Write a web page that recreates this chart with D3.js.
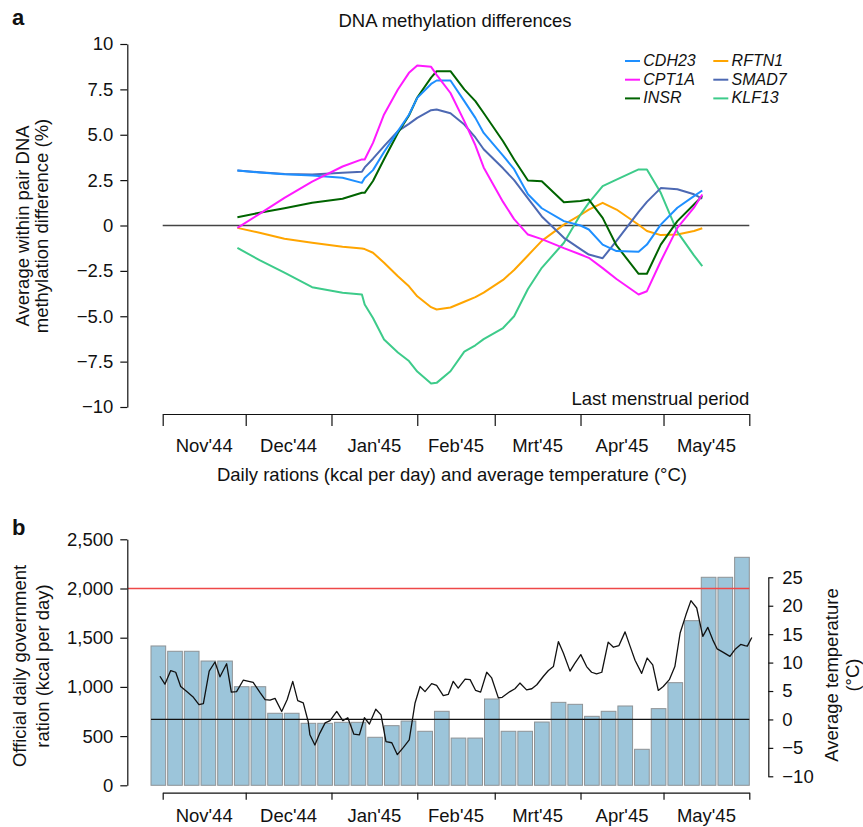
<!DOCTYPE html>
<html>
<head>
<meta charset="utf-8">
<script src="https://cdn.jsdelivr.net/npm/d3@7"></script>
<style>
  body { margin: 0; background: #fff; }
  text { font-family: "Liberation Sans", Arial, sans-serif; fill: #111; }
</style>
</head>
<body>
<div id="chart"></div>
<script>
// --- data -----------------------------------------------------------------
// panel a: within-pair DNA methylation difference (%) by date of last menstrual period
let dnaDates = ['1944-11-28','1944-12-06','1944-12-15','1944-12-25','1945-01-05','1945-01-12',
    '1945-01-13','1945-01-16','1945-01-20','1945-01-25','1945-01-29','1945-02-01','1945-02-06',
    '1945-02-08','1945-02-13','1945-02-18','1945-02-22','1945-02-25','1945-03-04','1945-03-08',
    '1945-03-13','1945-03-18','1945-03-26','1945-04-01','1945-04-04','1945-04-09','1945-04-14',
    '1945-04-22','1945-04-25','1945-04-30','1945-05-06','1945-05-12','1945-05-15'];

let cdh23 = [3.03,2.92,2.82,2.76,2.63,2.35,2.62,3.05,4.05,5.2,6.1,7.03,7.8,7.99,7.99,6.85,5.93,
    5.1,3.85,3.1,1.72,0.95,0.24,0.0,-0.22,-1.05,-1.41,-1.45,-1.05,0.05,0.98,1.62,1.93];
let cpt1a = [-0.13,0.64,1.52,2.42,3.25,3.64,3.64,4.55,6.12,7.49,8.41,8.82,8.74,8.3,7.3,5.75,4.42,
    3.2,1.3,0.35,-0.5,-0.75,-1.25,-1.6,-1.78,-2.35,-2.95,-3.8,-3.62,-1.97,-0.13,0.98,1.71];
let insr = [0.46,0.7,0.95,1.25,1.47,1.8,1.8,2.45,3.65,5.1,6.06,7.05,8.15,8.5,8.5,7.5,6.85,6.2,
    4.64,3.64,2.48,2.44,1.28,1.35,1.43,0.42,-1.1,-2.66,-2.66,-1.05,0.24,1.16,1.62];
let rftn1 = [-0.13,-0.4,-0.73,-0.95,-1.17,-1.27,-1.3,-1.5,-2.05,-2.8,-3.35,-3.9,-4.5,-4.63,-4.52,
    -4.2,-3.95,-3.7,-3.0,-2.45,-1.65,-0.85,0.05,0.58,0.87,1.25,0.88,0.04,-0.3,-0.53,-0.5,-0.3,-0.15];
let smad7 = [3.03,2.93,2.84,2.81,2.9,2.96,3.2,3.68,4.37,5.2,5.6,5.93,6.35,6.39,6.18,5.56,4.85,4.2,
    3.15,2.5,1.5,0.5,-0.68,-1.3,-1.6,-1.8,-0.85,0.75,1.3,2.06,2.0,1.72,1.48];
let klf13 = [-1.23,-1.91,-2.6,-3.4,-3.71,-3.8,-4.35,-5.1,-6.28,-7.0,-7.47,-8.05,-8.71,-8.67,-8.03,
    -6.95,-6.6,-6.26,-5.65,-5.0,-3.5,-2.33,-0.95,0.6,1.25,2.17,2.53,3.09,3.09,1.8,-0.35,-1.65,-2.24];

let geneNames = ['CDH23', 'CPT1A', 'INSR', 'RFTN1', 'SMAD7', 'KLF13'];
let geneColors = ['#1e8fff', '#ff1aff', '#006400', '#ffa500', '#4d69b3', '#3dcb8a'];
let geneValues = [cdh23, cpt1a, insr, rftn1, smad7, klf13];

// month boundaries and labels (shared by both panels)
let monthStarts = ['1944-11-01','1944-12-01','1945-01-01','1945-02-01','1945-03-01',
    '1945-04-01','1945-05-01','1945-06-01'];
let monthLabels = ["Nov'44", "Dec'44", "Jan'45", "Feb'45", "Mrt'45", "Apr'45", "May'45"];

// panel b: official daily ration per week (kcal)
let rations = [1416,1362,1362,1263,1263,1002,1002,732,732,630,630,640,640,488,606,653,549,752,
    480,480,877,549,549,643,843,823,701,752,806,366,779,1043,1673,2114,2114,2317];

// panel b: average temperature (°C), days counted from 1 Nov 1944
let tempDay = [-1.0,0.8,2.9,4.7,6.5,8.7,11.1,13.1,14.7,16.8,18.9,20.7,23.1,24.8,26.7,29.1,32.7,
    35.2,37.0,38.8,40.6,43.0,45.0,47.0,48.8,50.8,52.6,53.2,55.0,56.8,58.7,60.5,62.9,65.1,66.9,
    69.1,71.1,72.9,74.7,77.0,78.9,80.7,82.8,84.8,87.0,89.1,91.2,93.0,94.8,97.2,99.0,101.4,103.2,
    105.0,106.8,109.3,111.1,113.1,114.9,117.1,118.9,121.3,122.7,125.5,127.3,129.1,131.5,133.4,
    135.2,137.6,139.4,141.2,143.0,144.8,147.2,149.0,151.1,153.2,155.0,156.8,158.7,161.0,162.9,
    164.9,167.1,168.9,170.7,173.1,175.1,177.1,179.1,180.9,183.1,185.1,187.0,189.1,190.9,193.0,
    195.2,197.0,198.8,200.4,202.6,205.0,206.8,208.9,210.4,211.3,212.9];
let tempC = [7.6,6.2,8.6,8.3,5.8,4.9,3.9,2.6,2.8,8.5,10.1,7.5,9.8,4.8,4.9,6.9,6.5,4.7,3.5,3.4,
    3.7,1.4,3.5,6.7,3.3,2.9,-0.4,-2.7,-4.5,-2.4,-0.6,-0.2,1.4,-0.2,0.3,-2.6,-2.7,0.3,-0.8,1.8,
    0.8,-3.9,-4.1,-6.2,-4.9,-3.6,2.9,5.8,4.9,6.3,6.0,4.2,4.4,6.7,5.5,7.1,7.0,5.1,4.8,8.3,
    7.3,3.8,3.9,4.9,5.4,6.4,5.2,5.4,6.1,7.6,8.6,9.3,13.7,11.7,8.5,9.9,11.4,9.3,8.3,8.0,
    8.3,13.6,12.7,13.0,15.4,12.9,10.4,8.1,10.8,9.6,5.1,5.8,7.0,9.3,15.2,18.4,20.9,19.6,14.6,16.2,
    14.0,12.4,11.8,11.1,12.3,13.2,13.0,12.9,14.4];

let minimumRation = 2000;

// --- layout ----------------------------------------------------------------
let svgwidth = 863;
let svgheight = 827;
let fontSize = '18.5px';

let parseDate = d3.utcParse('%Y-%m-%d');
let monthDates = monthStarts.map(parseDate);

let svg = d3.select('#chart').append('svg')
    .attr('width', svgwidth)
    .attr('height', svgheight);

// shared time scale
let xTime = d3.scaleUtc()
    .domain([monthDates[0], monthDates[monthDates.length - 1]])
    .range([162.7, 749.3]);

// month tick labels centred between boundaries
function monthText(g, baseline) {
    g.selectAll('.monthLabel')
        .data(monthLabels)
        .enter()
        .append('text')
        .attr('x', (d, i) => (xTime(monthDates[i]) + xTime(monthDates[i + 1])) / 2)
        .attr('y', baseline)
        .attr('text-anchor', 'middle')
        .style('font-size', fontSize)
        .text(d => d);
}

function styleAxis(g) {
    g.selectAll('path, line').attr('stroke', '#111').attr('stroke-width', 1.2);
    g.selectAll('text').style('font-size', fontSize)
        .style('font-family', '"Liberation Sans", Arial, sans-serif').attr('fill', '#111');
}

// ===================== panel a =====================
let ya = d3.scaleLinear().domain([-10, 10]).range([407, 44]);

let fmtA = v => (v === 0 || Math.abs(v) === 10) ? d3.format('d')(v) : d3.format('.1f')(v);

svg.append('g')
    .attr('transform', 'translate(127.3,0)')
    .call(d3.axisLeft(ya).tickValues(d3.range(-10, 10.1, 2.5)).tickFormat(fmtA)
        .tickSize(7).tickSizeOuter(0).tickPadding(7))
    .call(styleAxis);

svg.append('g')
    .attr('transform', 'translate(0,414)')
    .call(d3.axisBottom(xTime).tickValues(monthDates).tickFormat('')
        .tickSize(12).tickSizeOuter(0))
    .call(styleAxis);
monthText(svg, 452);

// zero line
svg.append('line')
    .attr('x1', xTime.range()[0]).attr('x2', xTime.range()[1])
    .attr('y1', ya(0)).attr('y2', ya(0))
    .attr('stroke', '#444').attr('stroke-width', 1.4);

let geneLine = d3.line()
    .x((d, i) => xTime(parseDate(dnaDates[i])))
    .y(d => ya(d));

// draw order: background genes first
let drawOrder = [3, 5, 4, 2, 0, 1];
drawOrder.forEach(function(k) {
    svg.append('path')
        .datum(geneValues[k])
        .attr('d', geneLine)
        .attr('fill', 'none')
        .attr('stroke', geneColors[k])
        .attr('stroke-width', 2)
        .attr('stroke-linejoin', 'round');
});

// legend
let legend = svg.append('g').attr('transform', 'translate(625,61)');
geneNames.forEach(function(name, i) {
    let col = Math.floor(i / 3);
    let row = i % 3;
    let g = legend.append('g').attr('transform', `translate(${col * 88.3}, ${row * 18.7})`);
    g.append('line').attr('x1', 0).attr('x2', 15).attr('y1', 0).attr('y2', 0)
        .attr('stroke', geneColors[i]).attr('stroke-width', 2);
    g.append('text').attr('x', 18.3).attr('y', 4.8)
        .style('font-size', '16px').style('font-style', 'italic')
        .text(name);
});

svg.append('text').attr('x', 12).attr('y', 25)
    .style('font-size', '22px').style('font-weight', 'bold').text('a');

svg.append('text').attr('x', 455).attr('y', 26.5).attr('text-anchor', 'middle')
    .style('font-size', fontSize).text('DNA methylation differences');

svg.append('text').attr('x', 749.3).attr('y', 405).attr('text-anchor', 'end')
    .style('font-size', fontSize).text('Last menstrual period');

svg.append('text').attr('x', 452).attr('y', 481).attr('text-anchor', 'middle')
    .style('font-size', fontSize)
    .text('Daily rations (kcal per day) and average temperature (°C)');

svg.append('text').attr('transform', 'translate(29,226) rotate(-90)')
    .attr('text-anchor', 'middle').style('font-size', fontSize)
    .text('Average within pair DNA');
svg.append('text').attr('transform', 'translate(48,226) rotate(-90)')
    .attr('text-anchor', 'middle').style('font-size', fontSize)
    .text('methylation difference (%)');

// ===================== panel b =====================
let yb = d3.scaleLinear().domain([0, 2500]).range([785.3, 539.3]);
let yt = d3.scaleLinear().domain([-10, 25]).range([776.3, 577.3]);
let xBar = d3.scaleBand()
    .domain(d3.range(rations.length))
    .range([151, 749.3])
    .paddingInner(0.12)
    .paddingOuter(0);

svg.selectAll('.ration')
    .data(rations)
    .enter()
    .append('rect')
    .classed('ration', true)
    .attr('x', (d, i) => xBar(i))
    .attr('y', d => yb(d))
    .attr('width', xBar.bandwidth())
    .attr('height', d => yb(0) - yb(d))
    .attr('fill', '#9cc5da')
    .attr('stroke', '#8e9396')
    .attr('stroke-width', 1);

// 2,000 kcal reference line
svg.append('line')
    .attr('x1', 128).attr('x2', 749.3)
    .attr('y1', yb(minimumRation)).attr('y2', yb(minimumRation))
    .attr('stroke', '#ee4848').attr('stroke-width', 1.6);

// 0 °C line
svg.append('line')
    .attr('x1', 151).attr('x2', 749.3)
    .attr('y1', yt(0)).attr('y2', yt(0))
    .attr('stroke', '#111').attr('stroke-width', 1.3);

let dayStart = monthDates[0].getTime();
let tempLine = d3.line()
    .x((d, i) => xTime(new Date(dayStart + tempDay[i] * 864e5)))
    .y(d => yt(d));

svg.append('path')
    .datum(tempC)
    .attr('d', tempLine)
    .attr('fill', 'none')
    .attr('stroke', '#111')
    .attr('stroke-width', 1.3)
    .attr('stroke-linejoin', 'round');

svg.append('g')
    .attr('transform', 'translate(127.3,0)')
    .call(d3.axisLeft(yb).tickValues(d3.range(0, 2501, 500)).tickFormat(d3.format(','))
        .tickSize(7).tickSizeOuter(0).tickPadding(7))
    .call(styleAxis);

svg.append('g')
    .attr('transform', 'translate(768.3,0)')
    .call(d3.axisRight(yt).tickValues(d3.range(-10, 26, 5)).tickFormat(d3.format('d'))
        .tickSize(5).tickSizeOuter(0).tickPadding(9))
    .call(styleAxis);

svg.append('g')
    .attr('transform', 'translate(0,792.7)')
    .call(d3.axisBottom(xTime).tickValues(monthDates).tickFormat('')
        .tickSize(7).tickSizeOuter(0))
    .call(styleAxis);
monthText(svg, 822);

svg.append('text').attr('x', 12).attr('y', 535)
    .style('font-size', '22px').style('font-weight', 'bold').text('b');

svg.append('text').attr('transform', 'translate(26,666) rotate(-90)')
    .attr('text-anchor', 'middle').style('font-size', fontSize)
    .text('Official daily government');
svg.append('text').attr('transform', 'translate(49,666) rotate(-90)')
    .attr('text-anchor', 'middle').style('font-size', fontSize)
    .text('ration (kcal per day)');

svg.append('text').attr('transform', 'translate(838,675) rotate(-90)')
    .attr('text-anchor', 'middle').style('font-size', fontSize)
    .text('Average temperature');
svg.append('text').attr('transform', 'translate(859,675) rotate(-90)')
    .attr('text-anchor', 'middle').style('font-size', fontSize)
    .text('(°C)');
</script>
</body>
</html>
